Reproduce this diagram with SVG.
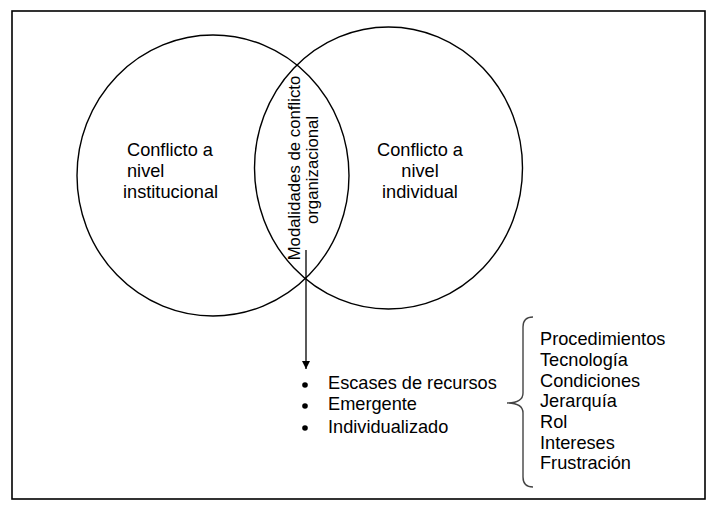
<svg xmlns="http://www.w3.org/2000/svg" width="712" height="509" viewBox="0 0 712 509">
<style>
  text { font-family: "Liberation Sans", Arial, sans-serif; fill: #000; }
  .lbl { font-size: 18.2px; }
  .lst { font-size: 18.2px; }
  .rot { font-size: 16.8px; }
  .circ { fill: none; stroke: #000; stroke-width: 1.4; }
  .conn { fill: none; stroke: #000; stroke-width: 1.3; }
  .brace { fill: none; stroke: #444; stroke-width: 1.4; }
</style>
<defs>
  <marker id="arrow" viewBox="0 0 10 10" refX="10" refY="5" markerWidth="8" markerHeight="8" markerUnits="userSpaceOnUse" orient="auto">
    <path d="M0,0 L10,5 L0,10 Z" fill="#000"/>
  </marker>
</defs>
<rect x="0" y="0" width="712" height="509" fill="#fff"/>
<rect x="12" y="11" width="693" height="488" fill="none" stroke="#000" stroke-width="1.6"/>

<g id="institucional">
  <ellipse class="circ" cx="213" cy="175.5" rx="136" ry="140.5"/>
  <text class="lbl" x="127" y="156">Conflicto a</text>
  <text class="lbl" x="127" y="177">nivel</text>
  <text class="lbl" x="123" y="198">institucional</text>
</g>

<g id="individual">
  <ellipse class="circ" cx="388.5" cy="168" rx="134" ry="141"/>
  <text class="lbl" x="420" y="156" text-anchor="middle">Conflicto a</text>
  <text class="lbl" x="420" y="177" text-anchor="middle">nivel</text>
  <text class="lbl" x="420" y="198" text-anchor="middle">individual</text>
</g>

<g id="modalidades">
  <text class="rot" transform="translate(300,168) rotate(-90)" text-anchor="middle">Modalidades de conflicto</text>
  <text class="rot" transform="translate(318,170) rotate(-90)" text-anchor="middle">organizacional</text>
</g>

<g id="connectors">
  <line class="conn" x1="306" y1="250" x2="306" y2="369" marker-end="url(#arrow)"/>
  <path class="brace" d="M533,317 Q523,317 523,327 L523,393 Q523,403 507,403 Q523,403 523,413 L523,477 Q523,487 533,487"/>
</g>

<g id="tipos">
  <circle cx="305" cy="385" r="2.8" fill="#000"/>
  <circle cx="305" cy="406" r="2.8" fill="#000"/>
  <circle cx="305" cy="428" r="2.8" fill="#000"/>
  <text class="lbl" x="328" y="389">Escases de recursos</text>
  <text class="lbl" x="328" y="410">Emergente</text>
  <text class="lbl" x="328" y="433">Individualizado</text>
</g>

<g id="factores">
  <text class="lst" x="540" y="345">Procedimientos</text>
  <text class="lst" x="540" y="366">Tecnología</text>
  <text class="lst" x="540" y="386.5">Condiciones</text>
  <text class="lst" x="540" y="407">Jerarquía</text>
  <text class="lst" x="540" y="428">Rol</text>
  <text class="lst" x="540" y="448.5">Intereses</text>
  <text class="lst" x="540" y="469">Frustración</text>
</g>
</svg>
